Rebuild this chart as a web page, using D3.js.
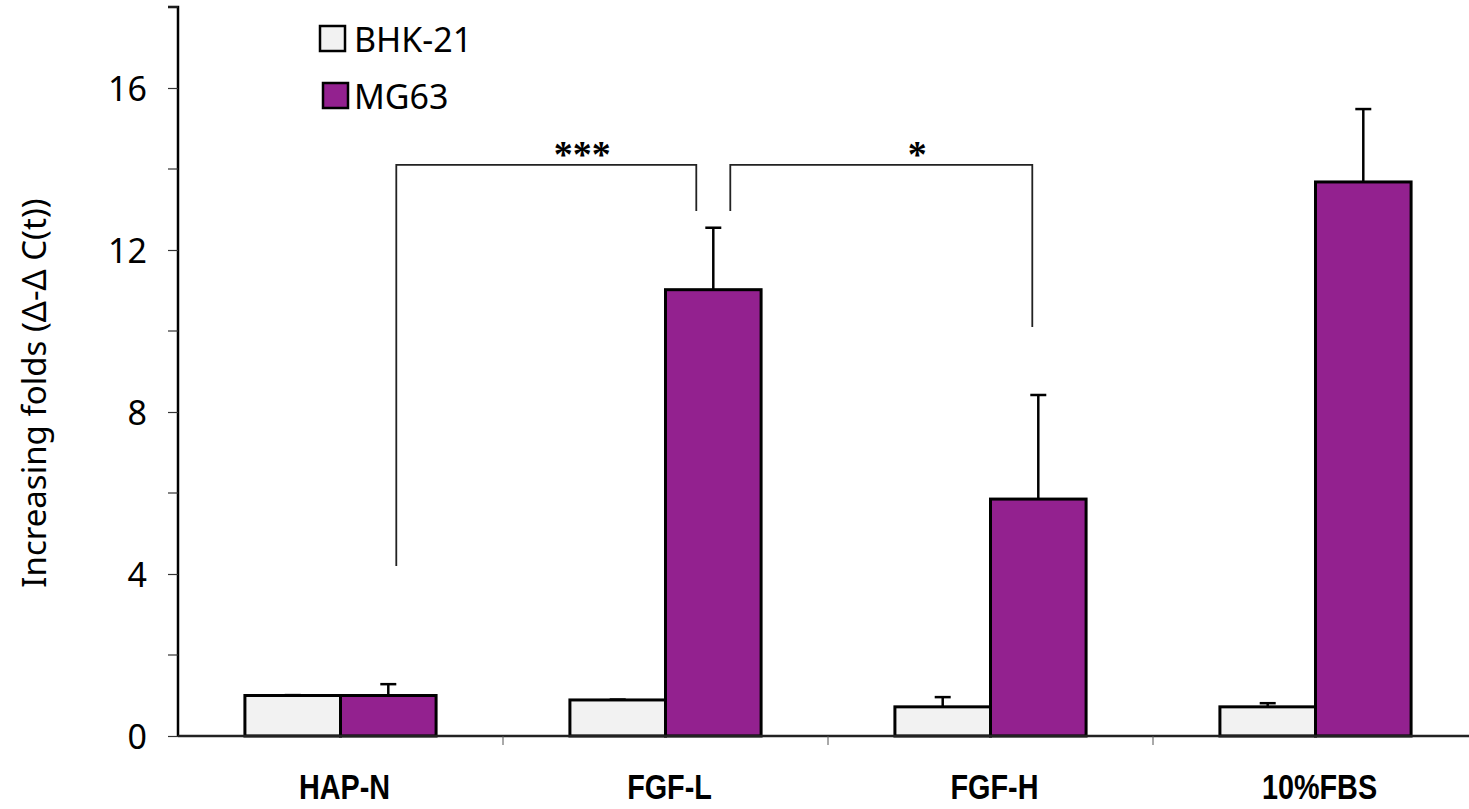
<!DOCTYPE html>
<html>
<head>
<meta charset="utf-8">
<script src="https://cdn.jsdelivr.net/npm/d3@7"></script>
<style>
  body { margin: 0; background: #fff; }
  text { font-family: "Noto Sans", "DejaVu Sans", sans-serif; fill: #000; }
  .catLabel { font-family: "Liberation Sans", Arial, sans-serif; font-weight: bold; }
</style>
</head>
<body>
<div id="chart"></div>
<script>
// data
const categories = ["HAP-N", "FGF-L", "FGF-H", "10%FBS"];
const seriesNames = ["BHK-21", "MG63"];
const bhkValues = [1.0, 0.89, 0.72, 0.72];
const bhkErrors = [0.01, 0.01, 0.24, 0.09];
const mgValues = [1.0, 11.02, 5.85, 13.68];
const mgErrors = [0.28, 1.53, 2.57, 1.8];
const yTicks = [0, 4, 8, 12, 16];
const yMinorTicks = [2, 6, 10, 14, 18];
// significance brackets between MG63 bars
const brackets = [
  {from: 0, to: 1, leftFoot: 4.2, rightFoot: 12.96, top: 14.1, label: "***"},
  {from: 1, to: 2, leftFoot: 12.96, rightFoot: 10.1, top: 14.1, label: "*"}
];

const colours = {"BHK-21": "#f2f2f2", "MG63": "#93218f"};

const width = 1469, height = 809;
const margin = {top: 7, right: -9, bottom: 73, left: 178};

const svg = d3.select("#chart").append("svg")
  .attr("width", width)
  .attr("height", height);

const x0 = d3.scaleBand()
  .domain(categories)
  .range([margin.left, width - margin.right])
  .paddingInner(0)
  .paddingOuter(0);

const x1 = d3.scaleBand()
  .domain(seriesNames)
  .range([0, x0.bandwidth()])
  .paddingOuter(0.7)
  .paddingInner(0);

const y = d3.scaleLinear()
  .domain([0, 18])
  .range([height - margin.bottom, margin.top]);

const rows = [];
categories.forEach((c, i) => {
  rows.push({cat: c, series: "BHK-21", value: bhkValues[i], err: bhkErrors[i]});
  rows.push({cat: c, series: "MG63", value: mgValues[i], err: mgErrors[i]});
});

// y axis
const yAxis = d3.axisLeft(y)
  .tickValues(yTicks)
  .tickSize(10)
  .tickPadding(21)
  .tickFormat(d3.format("d"));

const gy = svg.append("g")
  .attr("transform", `translate(${margin.left},0)`)
  .call(yAxis);
gy.select(".domain").attr("stroke", "#000").attr("stroke-width", 2.5)
  .attr("d", `M-10,${y(18)}H0V${y(0)}`);
gy.selectAll(".tick line").attr("stroke", "#333").attr("stroke-width", 1.2);
gy.selectAll(".tick text").style("font-size", "34px").attr("dy", "0.36em");

gy.selectAll(".minor")
  .data(yMinorTicks)
  .enter()
  .append("line")
  .attr("class", "minor")
  .attr("x1", -10).attr("x2", 0)
  .attr("y1", d => y(d)).attr("y2", d => y(d))
  .attr("stroke", "#333").attr("stroke-width", 1.2);

// y label
svg.append("text")
  .attr("transform", `translate(46,393) rotate(-90)`)
  .style("text-anchor", "middle")
  .style("font-size", "33px")
  .text("Increasing folds (\u0394-\u0394 C(t))");

// bars
const bars = svg.append("g");
bars.selectAll("rect.bar")
  .data(rows)
  .enter()
  .append("rect")
  .attr("class", "bar")
  .attr("x", d => x0(d.cat) + x1(d.series))
  .attr("y", d => y(d.value))
  .attr("width", x1.bandwidth())
  .attr("height", d => y(0) - y(d.value))
  .style("fill", d => colours[d.series])
  .style("stroke", "#000")
  .style("stroke-width", 3);

// error bars (upper only)
const errs = svg.append("g");
errs.selectAll("line.err")
  .data(rows)
  .enter()
  .append("line")
  .attr("class", "err")
  .attr("x1", d => x0(d.cat) + x1(d.series) + x1.bandwidth() / 2)
  .attr("x2", d => x0(d.cat) + x1(d.series) + x1.bandwidth() / 2)
  .attr("y1", d => y(d.value))
  .attr("y2", d => y(d.value + d.err))
  .attr("stroke", "#000").attr("stroke-width", 2.5);
errs.selectAll("line.cap")
  .data(rows)
  .enter()
  .append("line")
  .attr("class", "cap")
  .attr("x1", d => x0(d.cat) + x1(d.series) + x1.bandwidth() / 2 - 8)
  .attr("x2", d => x0(d.cat) + x1(d.series) + x1.bandwidth() / 2 + 8)
  .attr("y1", d => y(d.value + d.err))
  .attr("y2", d => y(d.value + d.err))
  .attr("stroke", "#000").attr("stroke-width", 2.5);

// x axis
const gx = svg.append("g")
  .attr("transform", `translate(0,${y(0)})`);
gx.append("line")
  .attr("x1", margin.left).attr("x2", width)
  .attr("stroke", "#222").attr("stroke-width", 2.5);
gx.selectAll("line.xtick")
  .data(categories.slice(1))
  .enter()
  .append("line")
  .attr("class", "xtick")
  .attr("x1", d => x0(d)).attr("x2", d => x0(d))
  .attr("y1", 0).attr("y2", 9)
  .attr("stroke", "#555").attr("stroke-width", 1);
gx.selectAll("text.catLabel")
  .data(categories)
  .enter()
  .append("text")
  .attr("class", "catLabel")
  .attr("transform", d => `translate(${x0(d) + x0.bandwidth() / 2 + 4},63) scale(0.8,1)`)
  .style("text-anchor", "middle")
  .style("font-size", "36px")
  .text(d => d);

// significance brackets
const mgCenter = i => x0(categories[i]) + x1("MG63") + x1.bandwidth() / 2;
const sig = svg.append("g");
brackets.forEach((b, k) => {
  const xl = mgCenter(b.from) + (k === 0 ? 8 : 17);
  const xr = mgCenter(b.to) - (k === 0 ? 17 : 6);
  sig.append("path")
    .attr("d", `M${xl},${y(b.leftFoot)}V${y(b.top)}H${xr}V${y(b.rightFoot)}`)
    .attr("fill", "none")
    .attr("stroke", "#222").attr("stroke-width", 1.8);
  sig.append("text")
    .attr("x", (xl + xr) / 2 + 36)
    .attr("y", y(b.top) + 2)
    .style("text-anchor", "middle")
    .style("font-size", "38px")
    .style("font-weight", "bold")
    .style("font-family", "'Liberation Serif', serif")
    .text(b.label);
});

// legend
const legend = svg.append("g");
seriesNames.forEach((s, i) => {
  const ly = 26 + i * 57;
  legend.append("rect")
    .attr("x", 320 + i * 3).attr("y", ly)
    .attr("width", 25).attr("height", 25)
    .style("fill", colours[s])
    .style("stroke", "#000").style("stroke-width", 2.5);
  legend.append("text")
    .attr("x", 354).attr("y", ly + 14)
    .attr("dy", "0.36em")
    .style("font-size", "34px")
    .text(s);
});
</script>
</body>
</html>
